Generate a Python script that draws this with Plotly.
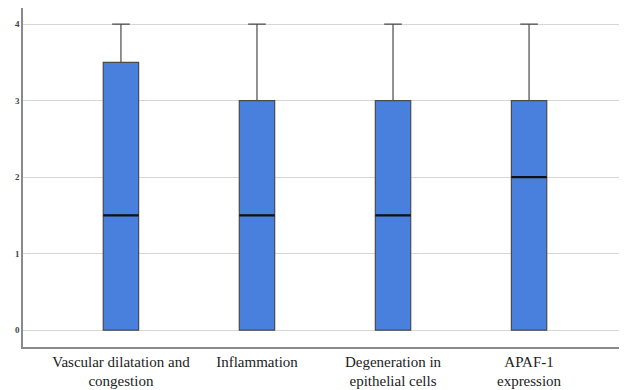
import plotly.graph_objects as go

categories = ["Vascular dilatation and<br>congestion", "Inflammation",
              "Degeneration in<br>epithelial cells", "APAF-1<br>expression"]
minimum = [0, 0, 0, 0]
q1 = [0, 0, 0, 0]
median = [1.5, 1.5, 1.5, 2]
q3 = [3.5, 3, 3, 3]
maximum = [4, 4, 4, 4]
y_ticks = [0, 1, 2, 3, 4]

box_w = 0.26

fig = go.Figure()
fig.add_trace(go.Box(
    x=categories, q1=q1, median=median, q3=q3,
    lowerfence=minimum, upperfence=maximum,
    width=box_w, whiskerwidth=0.5,
    fillcolor="#4a80dd", line=dict(color="#4a4a4a", width=1.2),
    boxpoints=False, hoverinfo="skip", showlegend=False,
))

for i, m in enumerate(median):
    fig.add_shape(type="line", xref="x", yref="y",
                  x0=i - box_w / 2, x1=i + box_w / 2, y0=m, y1=m,
                  line=dict(color="#111111", width=2.2))

# page body has an 8px default margin, so the figure is sized to fit the window
fig.update_layout(
    width=619, height=382,
    margin=dict(l=15, r=0, t=0, b=43),
    paper_bgcolor="#ffffff", plot_bgcolor="#ffffff",
    font=dict(family="Liberation Serif", color="#222222"),
)
fig.update_xaxes(
    type="category", range=[-0.72, 3.72], automargin=False,
    showgrid=False, showline=True, linecolor="#8a8a8a", linewidth=1.5,
    ticks="", ticklabelstandoff=0,
    tickfont=dict(size=15, family="Liberation Serif", color="#222222"),
)
fig.update_yaxes(
    range=[-0.22, 4.21], tickvals=y_ticks,
    ticktext=["<b>%d</b>" % v for v in y_ticks],
    automargin=False,
    showgrid=True, gridcolor="#d6d6d6", gridwidth=1, zeroline=False,
    showline=True, linecolor="#8a8a8a", linewidth=1.5,
    ticks="", tickfont=dict(size=9, family="Liberation Serif", color="#444444"),
)

fig.write_html("out.html")
